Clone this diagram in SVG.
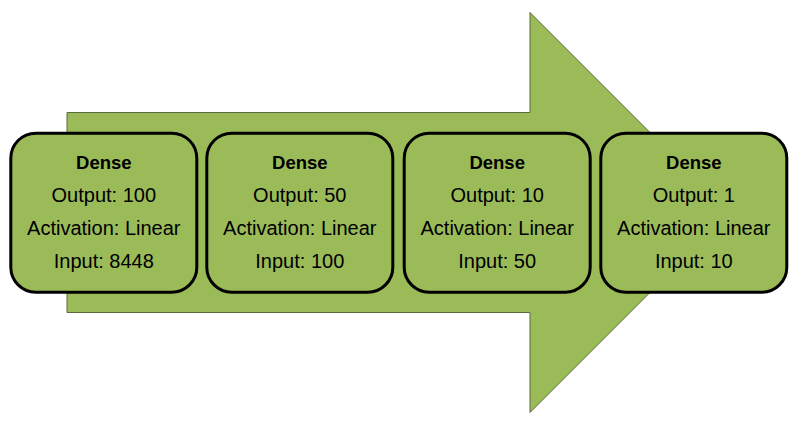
<svg xmlns="http://www.w3.org/2000/svg" width="801" height="427" viewBox="0 0 801 427">
<style>
.box{fill:#9bbb59;stroke:#000;stroke-width:3}
.t{font-family:"Liberation Sans",Arial,sans-serif;font-size:20px;fill:#000;text-anchor:middle}
.h{font-family:"Liberation Sans",Arial,sans-serif;font-size:18.5px;font-weight:bold;fill:#000;text-anchor:middle}
</style>
<rect width="801" height="427" fill="#fff"/>
<g id="connectors">
<polygon points="67,112.5 530,112.5 530,12.5 730,212.5 530,412.5 530,312.5 67,312.5" fill="#9bbb59" stroke="#5a6b3c" stroke-width="1"/>
</g>
<g id="n1">
<rect class="box" x="10.8" y="133.2" width="186" height="159" rx="25"/>
<text class="h" x="103.8" y="168.5">Dense</text>
<text class="t" x="103.8" y="201.7">Output: 100</text>
<text class="t" x="103.8" y="234.5">Activation: Linear</text>
<text class="t" x="103.8" y="267.5">Input: 8448</text>
</g>
<g id="n2">
<rect class="box" x="206.8" y="133.2" width="186" height="159" rx="25"/>
<text class="h" x="299.8" y="168.5">Dense</text>
<text class="t" x="299.8" y="201.7">Output: 50</text>
<text class="t" x="299.8" y="234.5">Activation: Linear</text>
<text class="t" x="299.8" y="267.5">Input: 100</text>
</g>
<g id="n3">
<rect class="box" x="404.2" y="133.2" width="186" height="159" rx="25"/>
<text class="h" x="497.2" y="168.5">Dense</text>
<text class="t" x="497.2" y="201.7">Output: 10</text>
<text class="t" x="497.2" y="234.5">Activation: Linear</text>
<text class="t" x="497.2" y="267.5">Input: 50</text>
</g>
<g id="n4">
<rect class="box" x="600.8" y="133.2" width="186" height="159" rx="25"/>
<text class="h" x="693.8" y="168.5">Dense</text>
<text class="t" x="693.8" y="201.7">Output: 1</text>
<text class="t" x="693.8" y="234.5">Activation: Linear</text>
<text class="t" x="693.8" y="267.5">Input: 10</text>
</g>
</svg>
